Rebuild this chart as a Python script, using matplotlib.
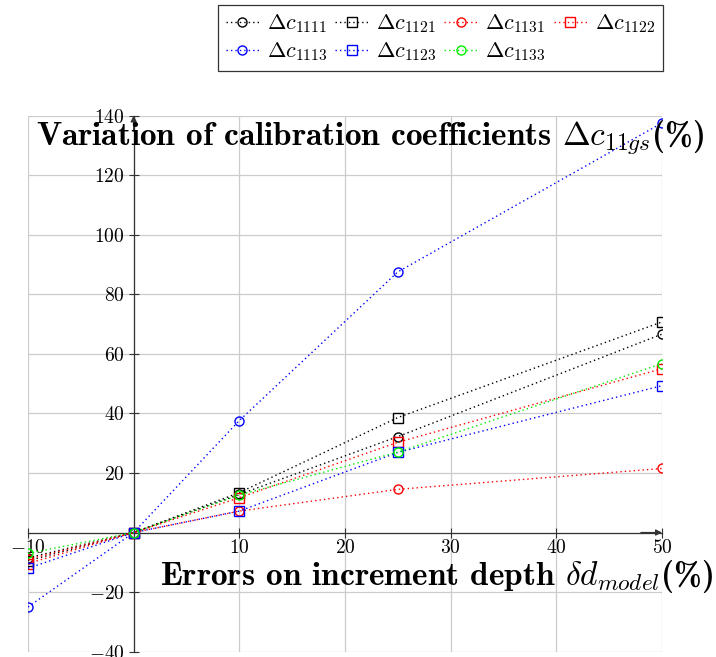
import numpy as np
import matplotlib as mpl
mpl.use('Agg')
import matplotlib.pyplot as plt

##################  FONTS  ###################

mpl.rcParams['mathtext.fontset'] = 'cm'
mpl.rcParams['font.family'] = 'serif'
mpl.rcParams['font.serif'] = ['cmr10', 'DejaVu Serif']

###############  DATA  ###############

depth_err = [-10, 0, 10, 25, 50]

dc1111 = [-8.5, 0, 12.8, 32.2, 66.6]
dc1121 = [-9.5, 0, 13.4, 38.6, 70.7]
dc1131 = [-9.0, 0, 7.2, 14.5, 21.5]
dc1122 = [-10.4, 0, 11.7, 30.3, 55.0]
dc1113 = [-25.0, 0, 37.6, 87.5, 137.5]
dc1123 = [-12.0, 0, 7.2, 26.9, 49.3]
dc1133 = [-7.0, 0, 12.6, 27.0, 56.7]

series = [
    (dc1111, 'black', 'o', r'$\Delta c_{1111}$'),
    (dc1121, 'black', 's', r'$\Delta c_{1121}$'),
    (dc1131, 'red',   'o', r'$\Delta c_{1131}$'),
    (dc1122, 'red',   's', r'$\Delta c_{1122}$'),
    (dc1113, 'blue',  'o', r'$\Delta c_{1113}$'),
    (dc1123, 'blue',  's', r'$\Delta c_{1123}$'),
    (dc1133, '#00ee00', 'o', r'$\Delta c_{1133}$'),
]

xticks = [-10, 10, 20, 30, 40, 50]
yticks = [-40, -20, 20, 40, 60, 80, 100, 120, 140]

################  PLOT SETUP  ################

fig = plt.figure(figsize=(7.16, 6.57), dpi=100)
ax = fig.add_axes([0.0391, 0.0081, 0.8855, 0.8161])

dots = (0, (1, 2.2))
handles = []
for vals, col, mk, lab in series:
    h, = ax.plot(depth_err, vals, linestyle=dots, color=col, lw=1.0,
                 marker=mk, markersize=6.5, markerfacecolor='none',
                 markeredgecolor=col, markeredgewidth=1.0, label=lab, zorder=3)
    handles.append(h)

ax.set_xlim(-10, 50)
ax.set_ylim(-40, 140)

# grid lines (drawn by hand so the 0 lines are there too)
for gx in np.arange(-10, 51, 10):
    ax.axvline(gx, color='#cccccc', lw=0.9, zorder=0)
for gy in np.arange(-40, 141, 20):
    ax.axhline(gy, color='#cccccc', lw=0.9, zorder=0)

# middle axis lines
for s in ['top', 'right']:
    ax.spines[s].set_visible(False)
ax.spines['left'].set_position(('data', 0))
ax.spines['bottom'].set_position(('data', 0))
for s in ['left', 'bottom']:
    ax.spines[s].set_color('#333333')
    ax.spines[s].set_linewidth(0.9)
    ax.spines[s].set_zorder(2)

ax.annotate('', xy=(50, 0), xytext=(48, 0),
            arrowprops=dict(arrowstyle='-|>', color='#333333', lw=0.9,
                            mutation_scale=9, shrinkA=0, shrinkB=0))
ax.annotate('', xy=(0, 140), xytext=(0, 135),
            arrowprops=dict(arrowstyle='-|>', color='#333333', lw=0.9,
                            mutation_scale=9, shrinkA=0, shrinkB=0))

ax.set_xticks(xticks)
ax.set_xticklabels([r'$%d$' % v for v in xticks])
ax.set_yticks(yticks)
ax.set_yticklabels([r'$%d$' % v for v in yticks])
ax.tick_params(which='major', direction='inout', length=7, width=0.8,
               color='#333333', labelsize=14)
ax.tick_params(axis='x', which='major', pad=1)
ax.tick_params(axis='y', which='major', pad=3)

# axis labels
fig.text(0.05, 0.792, r'Variation of calibration coefficients $\Delta c_{11gs}$(%)',
         fontfamily='cmb10', fontsize=24, ha='left', va='center')
fig.text(0.997, 0.122, r'Errors on increment depth $\delta d_{model}$(%)',
         fontfamily='cmb10', fontsize=24, ha='right', va='center')

# legend filled row by row like the original
order = [0, 4, 1, 5, 2, 6, 3]
leg = fig.legend([handles[i] for i in order], [series[i][3] for i in order],
                 loc='upper right', bbox_to_anchor=(0.926, 0.993), ncol=4,
                 fontsize=16, frameon=True, fancybox=False, edgecolor='black',
                 handlelength=1.5, handletextpad=0.35, columnspacing=0.35,
                 labelspacing=0.25, borderpad=0.35, borderaxespad=0,
                 numpoints=1)
leg.get_frame().set_linewidth(0.9)

##################  OUTPUT  ##################

plt.savefig('out.png', dpi=100)
